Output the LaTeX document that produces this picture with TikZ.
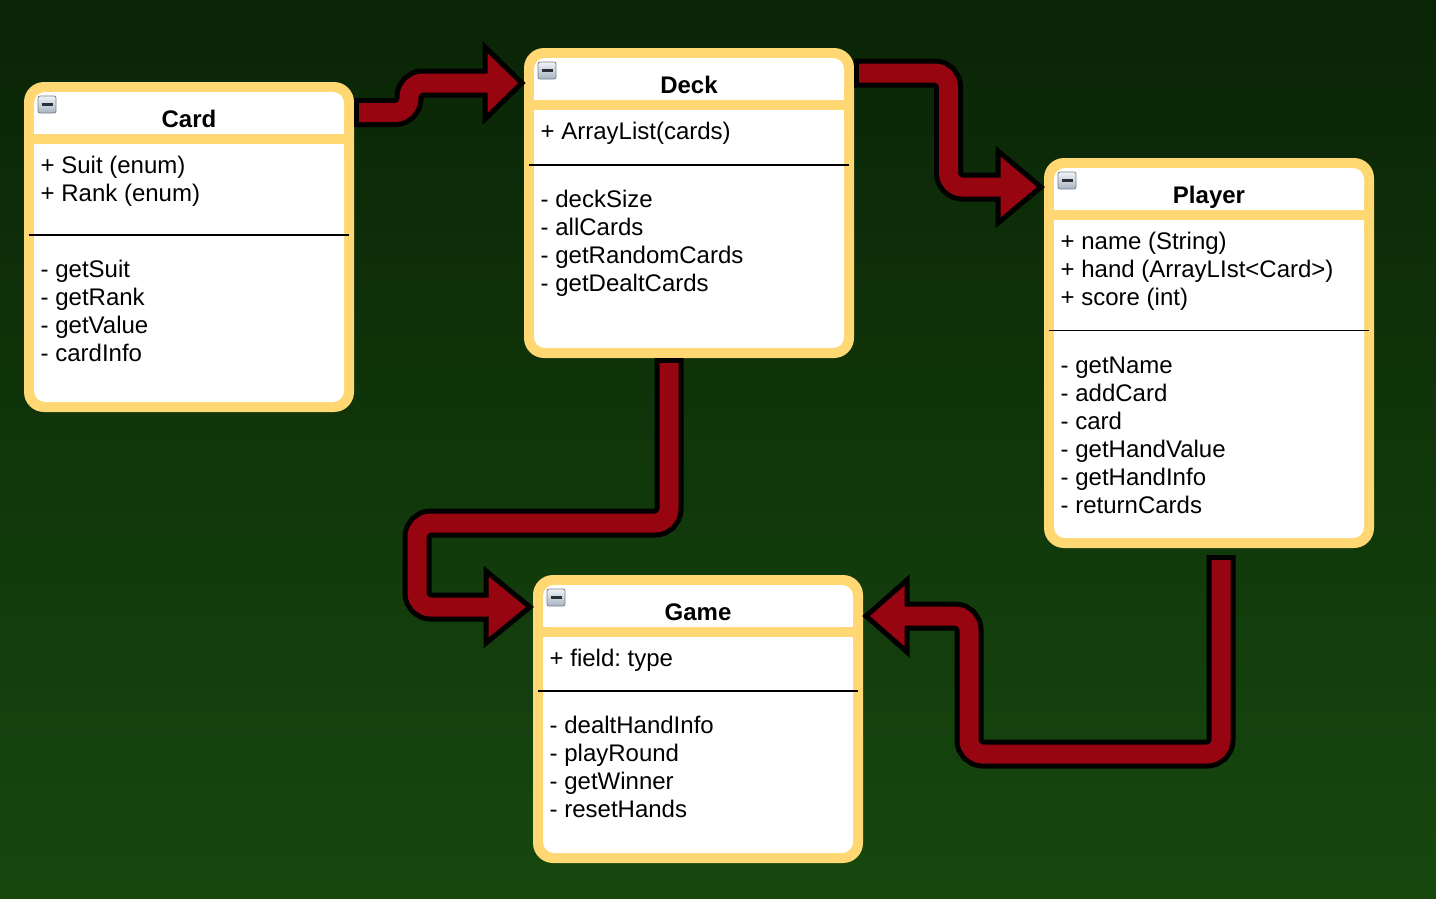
\documentclass[tikz,border=0pt]{standalone}
\usepackage{fontspec}
\setmainfont{Liberation Sans}
\frenchspacing
\usetikzlibrary{calc}
\definecolor{bgtop}{RGB}{10,36,6}
\definecolor{bgmid}{RGB}{18,60,12}
\definecolor{bgbot}{RGB}{22,72,14}
\definecolor{boxyellow}{RGB}{255,215,115}
\definecolor{arrowred}{RGB}{150,5,16}
\definecolor{iconhi}{RGB}{240,243,247}
\definecolor{iconlo}{RGB}{168,180,194}
\definecolor{iconedge}{RGB}{118,130,144}
\definecolor{icondark}{RGB}{40,48,58}
\tikzset{
 classbox/.style={fill=boxyellow, draw=none, rounded corners=20pt, minimum width=330pt, inner sep=0pt, outer sep=0pt},
 whitepart/.style={fill=white, rounded corners=11pt},
 classtitle/.style={font=\fontsize{24}{28}\selectfont\bfseries, inner sep=0pt, anchor=base},
 item/.style={font=\fontsize{24}{28}\selectfont, inner sep=0pt, anchor=base west},
 sepline/.style={draw=black, line width=1.6pt},
 shaftout/.style={draw=black, line width=29pt, rounded corners=14pt},
 shaftin/.style={draw=arrowred, line width=19pt, rounded corners=14pt},
 headsty/.style={fill=arrowred, draw=black, line width=5pt, line join=miter},
 iconbox/.style={top color=iconhi, bottom color=iconlo, draw=iconedge, line width=0.8pt, rounded corners=2pt},
}
% #1 name, #2 x, #3 y, #4 height, #5 title, #6 separator offset, #7 attributes, #8 methods
\newcommand\umlclass[8]{%
 \node[classbox, minimum height=#4pt, anchor=north west] (#1) at (#2,#3) {};
 \fill[whitepart] ([shift={(10,10)}]#1.north west) rectangle ([shift={(-10,52)}]#1.north east);
 \fill[white] ([shift={(10,30)}]#1.north west) rectangle ([shift={(-10,52)}]#1.north east);
 \fill[whitepart] ([shift={(10,62)}]#1.north west) rectangle ([shift={(-10,-10)}]#1.south east);
 \fill[white] ([shift={(10,62)}]#1.north west) rectangle ([shift={(-10,-30)}]#1.south east);
 \draw[iconbox] ([shift={(14,14)}]#1.north west) rectangle ([shift={(32,31)}]#1.north west);
 \draw[icondark, line width=2.6pt] ([shift={(17.5,22.5)}]#1.north west) -- ([shift={(28.5,22.5)}]#1.north west);
 \node[classtitle] (#1-title) at ([yshift=-45pt]#1.north) {#5};
 \draw[sepline] ([shift={(5,#6)}]#1.north west) -- ([shift={(-5,#6)}]#1.north east);
 \foreach \txt [count=\i from 0] in {#7}
   \node[item] (#1-a\i) at ([shift={(16.5,91.5+28*\i)}]#1.north west) {\txt};
 \foreach \txt [count=\i from 0] in {#8}
   \node[item] (#1-m\i) at ([shift={(16.5,#6+42.5+28*\i)}]#1.north west) {\txt};
}
\begin{document}
\begin{tikzpicture}[x=1pt, y=-1pt]
\useasboundingbox (0,0) rectangle (1436,898);
\shade[top color=bgtop, middle color=bgmid, bottom color=bgbot] (0,0) rectangle (1436,898);

\umlclass{card}{24}{82}{330}{Card}{153}{+ Suit (enum), + Rank (enum)}{- getSuit, - getRank, - getValue, - cardInfo}
\umlclass{deck}{524}{48}{310}{Deck}{117}{+ ArrayList(cards)}{- deckSize, - allCards, - getRandomCards, - getDealtCards}
\umlclass{player}{1044}{158}{390}{Player}{172.5}{+ name (String), + hand (ArrayLIst<Card>), + score (int)}{- getName, - addCard, - card, - getHandValue, - getHandInfo, - returnCards}
\umlclass{game}{533}{575}{288}{Game}{115.7}{+ field: type}{- dealtHandInfo, - playRound, - getWinner, - resetHands}

% Card -> Deck
\coordinate (a1s) at ([yshift=-30.5pt]card.north east);
\coordinate (a1t) at ([shift={(-2,35)}]deck.north west);
\coordinate (a1b) at ([xshift=-37pt]a1t);
\draw[shaftout] (a1s) -- ++(55,0) |- (a1b);
\draw[headsty] ([yshift=36pt]a1b) -- (a1t) -- ([yshift=-36pt]a1b) -- cycle;
\draw[shaftin] ([xshift=5pt]a1s) -- ([xshift=55pt]a1s) |- ([xshift=6pt]a1b);

% Deck -> Player
\coordinate (a2s) at ([yshift=-25pt]deck.north east);
\coordinate (a2t) at ([shift={(-3,29)}]player.north west);
\coordinate (a2b) at ([xshift=-43pt]a2t);
\draw[shaftout] (a2s) -- ++(94.5,0) |- (a2b);
\draw[headsty] ([yshift=36pt]a2b) -- (a2t) -- ([yshift=-36pt]a2b) -- cycle;
\draw[shaftin] ([xshift=5pt]a2s) -- ([xshift=94.5pt]a2s) |- ([xshift=6pt]a2b);

% Deck -> Game
\coordinate (a3s) at ([xshift=-20pt]deck.south);
\coordinate (a3t) at ([shift={(-3,32)}]game.north west);
\coordinate (a3b) at ([xshift=-44pt]a3t);
\draw[shaftout] (a3s) -- ++(0,165) -- ++(-252,0) |- (a3b);
\draw[headsty] ([yshift=36pt]a3b) -- (a3t) -- ([yshift=-36pt]a3b) -- cycle;
\draw[shaftin] ([yshift=-5pt]a3s) -- ([yshift=-165pt]a3s) -- ++(-252,0) |- ([xshift=6pt]a3b);

% Player -> Game
\coordinate (a4s) at ([shift={(12,7)}]player.south);
\coordinate (a4t) at ([shift={(3,41)}]game.north east);
\coordinate (a4b) at ([xshift=41pt]a4t);
\draw[shaftout] (a4s) -- ++(0,199) -- ++(-252,0) |- (a4b);
\draw[headsty] ([yshift=36pt]a4b) -- (a4t) -- ([yshift=-36pt]a4b) -- cycle;
\draw[shaftin] ([yshift=-5pt]a4s) -- ([yshift=-199pt]a4s) -- ++(-252,0) |- ([xshift=-6pt]a4b);
\end{tikzpicture}
\end{document}
